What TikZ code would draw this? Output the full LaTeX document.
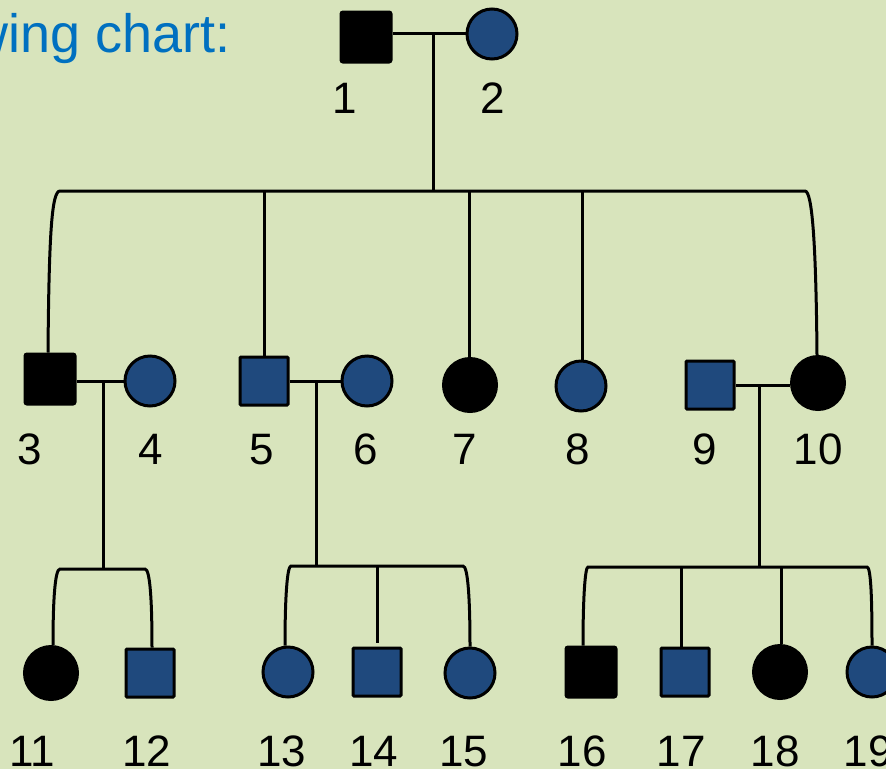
\documentclass[tikz,border=0pt]{standalone}
\usepackage{fontspec}
\setmainfont{Liberation Sans}
\definecolor{bgc}{RGB}{216,228,188}
\definecolor{pblue}{RGB}{31,73,125}
\definecolor{tblue}{RGB}{0,112,192}
\begin{document}
\begin{tikzpicture}[x=1pt,y=-1pt,
  person/.style={inner sep=0pt, draw=black, line width=3pt},
  afm/.style={person, rectangle, rounded corners=2pt, minimum size=50pt, fill=black},
  unm/.style={person, rectangle, rounded corners=1pt, minimum size=48pt, fill=pblue},
  aff/.style={person, circle, minimum size=53pt, fill=black},
  unf/.style={person, circle, minimum size=50pt, fill=pblue},
  num/.style={font=\fontsize{44}{50}\selectfont, anchor=base, inner sep=0pt},
  link/.style={line width=3pt, draw=black}]

\useasboundingbox (0,0) rectangle (886,769);
\clip (0,0) rectangle (886,769);
\fill[bgc] (0,0) rectangle (886,769);

% heading (runs off the left edge)
\node[anchor=base east, inner sep=0pt, text=tblue,
      font=\fontsize{54}{60}\selectfont] (title) at (231,52) {wing chart:};

% generation I
\node[afm] (p1) at (366,37) {};
\node[unf] (p2) at (492,34) {};

% generation II
\node[afm] (p3)  at (50,379)  {};
\node[unf] (p4)  at (150,381) {};
\node[unm] (p5)  at (264,381) {};
\node[unf] (p6)  at (367,381) {};
\node[aff] (p7)  at (470,385) {};
\node[unf] (p8)  at (581,386) {};
\node[unm] (p9)  at (710,385) {};
\node[aff] (p10) at (818,383) {};

% generation III
\node[aff] (p11) at (51,673)  {};
\node[unm] (p12) at (150,673) {};
\node[unf] (p13) at (288,672) {};
\node[unm] (p14) at (377,672) {};
\node[unf] (p15) at (470,673) {};
\node[afm] (p16) at (591,672) {};
\node[unm] (p17) at (685,672) {};
\node[aff] (p18) at (780,672) {};
\node[unf] (p19) at (872,672) {};

% couple and sibship points
\coordinate (c12)  at (433,33);
\coordinate (sII)  at (433,191);
\coordinate (c34)  at (103,381);
\coordinate (s34)  at (103,569);
\coordinate (c56)  at (316,381);
\coordinate (s56)  at (316,566);
\coordinate (c910) at (759,385);
\coordinate (s910) at (759,567);

% 1 x 2 and their children
\draw[link] (c12 -| p1.east) -- (c12 -| p2.west);
\draw[link] (c12) -- (sII);
\draw[link] ([xshift=-2pt]p3.north) .. controls (49,230) and (52,191) .. (60,191)
  -- (805,191) .. controls (812,191) and (816,240) .. ([xshift=-1pt]p10.north);
\draw[link] (p5.north |- sII) -- (p5.north);
\draw[link] ([xshift=-1pt]p7.north |- sII) -- ([xshift=-1pt]p7.north);
\draw[link] ([xshift=1pt]p8.north |- sII) -- ([xshift=1pt]p8.north);

% 3 x 4 and their children
\draw[link] (c34 -| p3.east) -- (c34 -| p4.west);
\draw[link] (c34) -- (s34);
\draw[link] ([xshift=2pt]p11.north) .. controls (53,600) and (55,569) .. (60,569)
  -- (145,569) .. controls (150,569) and (152,600) .. ([xshift=2pt]p12.north);

% 5 x 6 and their children
\draw[link] (c56 -| p5.east) -- (c56 -| p6.west);
\draw[link] (c56) -- (s56);
\draw[link] ([xshift=-3pt]p13.north) .. controls (285,600) and (287,566) .. (291,566)
  -- (463,566) .. controls (468,566) and (470,600) .. (p15.north);
\draw[link, shorten >=4pt] (p14.north |- s56) -- (p14.north);

% 9 x 10 and their children
\draw[link] (c910 -| p9.east) -- (c910 -| p10.west);
\draw[link] (c910) -- (s910);
\draw[link] ([xshift=-8pt]p16.north) .. controls (583,600) and (585,567) .. (588,567)
  -- (867,567) .. controls (871,567) and (872,600) .. (p19.north);
\draw[link] ([xshift=-4pt]p17.north |- s910) -- ([xshift=-4pt]p17.north);
\draw[link] ([xshift=1pt]p18.north |- s910) -- ([xshift=1pt]p18.north);

% numbers
\node[num] (l1)  at (345,113) {1};
\node[num] (l2)  at (493,113) {2};
\node[num] (l3)  at (30,464)  {3};
\node[num] (l4)  at (151,464) {4};
\node[num] (l5)  at (262,464) {5};
\node[num] (l6)  at (366,464) {6};
\node[num] (l7)  at (465,464) {7};
\node[num] (l8)  at (578,464) {8};
\node[num] (l9)  at (705,464) {9};
\node[num] (l10) at (818,464) {10};
\node[num] (l11) at (32,766)  {11};
\node[num] (l12) at (147,766) {12};
\node[num] (l13) at (282,766) {13};
\node[num] (l14) at (374,766) {14};
\node[num] (l15) at (464,766) {15};
\node[num] (l16) at (582,766) {16};
\node[num] (l17) at (681,766) {17};
\node[num] (l18) at (775,766) {18};
\node[num] (l19) at (868,766) {19};
\end{tikzpicture}
\end{document}
